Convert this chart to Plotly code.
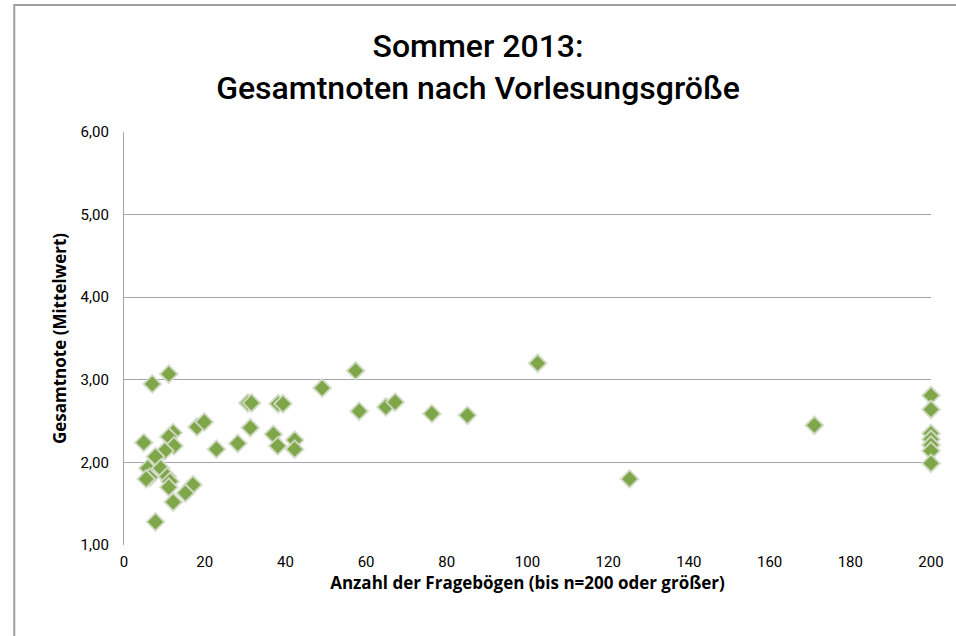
import plotly.graph_objects as go

# Anzahl der Fragebögen (x) und Gesamtnote (y)
anzahl = [7.0, 11.1, 4.9, 12.2, 11.1, 12.4, 10.1, 7.8, 18.1, 19.9, 22.9, 28.2,
          5.9, 9.1, 6.4, 5.5, 10.7, 11.4, 11.1, 17.1, 15.2, 12.2, 7.8,
          30.7, 31.6, 31.3, 37.0, 38.2, 39.4, 38.1, 42.3, 42.3, 49.1, 57.4, 58.3,
          64.9, 67.2, 76.3, 85.1, 102.5, 125.3, 171.1,
          200, 200, 200, 200, 200, 200, 200]
gesamtnote = [2.95, 3.07, 2.24, 2.36, 2.31, 2.20, 2.14, 2.07, 2.43, 2.49, 2.16, 2.23,
              1.93, 1.93, 1.82, 1.80, 1.83, 1.77, 1.70, 1.73, 1.63, 1.52, 1.28,
              2.72, 2.72, 2.42, 2.34, 2.71, 2.71, 2.20, 2.27, 2.16, 2.90, 3.11, 2.62,
              2.67, 2.73, 2.59, 2.57, 3.20, 1.80, 2.45,
              2.81, 2.64, 2.35, 2.28, 2.21, 2.14, 1.99]

y_ticks = [1, 2, 3, 4, 5, 6]
x_ticks = [0, 20, 40, 60, 80, 100, 120, 140, 160, 180, 200]

fig = go.Figure()
fig.add_trace(go.Scatter(
    x=anzahl, y=gesamtnote, mode="markers",
    marker=dict(symbol="diamond", size=13.5, color="#7FA649",
                line=dict(color="rgba(210,220,200,0.9)", width=2)),
    cliponaxis=False, showlegend=False))

fig.update_layout(
    width=956, height=636,
    margin=dict(l=124, r=23, t=132, b=91),
    paper_bgcolor="white", plot_bgcolor="white",
    separators=",.",
    font=dict(family="Roboto", color="#000000"),
    title=dict(text="Sommer 2013:<br>Gesamtnoten nach Vorlesungsgröße",
               x=0.5, xanchor="center", y=1 - 57 / 636, yanchor="top",
               font=dict(family="Roboto", size=32, weight=500, color="#000000")),
    xaxis=dict(range=[0, 200], tickvals=x_ticks, showgrid=False, zeroline=False,
               showline=False, ticks="", tickfont=dict(size=15),
               ticklabelstandoff=6,
               title=dict(text="<b>Anzahl der Fragebögen (bis n=200 oder größer)</b>",
                          font=dict(family="Open Sans", size=17), standoff=3)),
    yaxis=dict(range=[1, 6], tickvals=y_ticks, tickformat=".2f",
               showgrid=True, gridcolor="#A6A6A6", gridwidth=1.3,
               zeroline=False, showline=True, linecolor="#A6A6A6", linewidth=1.3,
               ticks="", tickfont=dict(size=15), ticklabelstandoff=11,
               title=dict(text="<b>Gesamtnote (Mittelwert)</b>",
                          font=dict(family="Open Sans", size=17), standoff=9)),
)

# outer chart frame (partly outside the visible area)
fig.add_shape(type="rect", xref="paper", yref="paper",
              x0=(14 - 124) / 809, x1=1.3, y0=-0.5, y1=(545 - 5) / 413,
              line=dict(color="#A0A0A0", width=2), layer="below")

fig.write_html("out.html", config={"displayModeBar": False},
               post_script="document.body.style.margin='0px';")
